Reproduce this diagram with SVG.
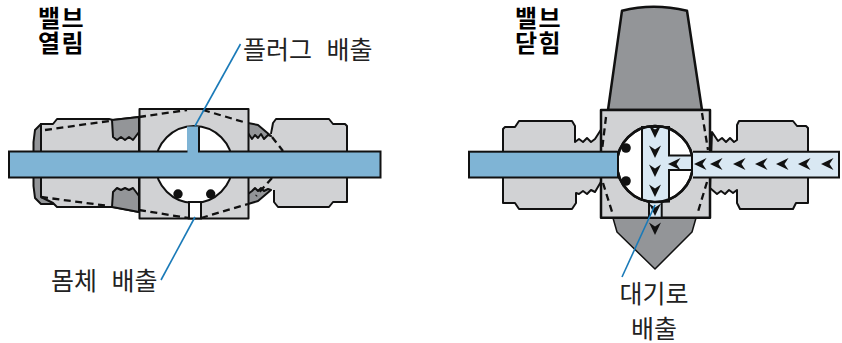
<svg xmlns="http://www.w3.org/2000/svg" width="842" height="343" viewBox="0 0 842 343">
<style>
.lt{fill:#d1d2d4;stroke:#111;stroke-width:2;stroke-linejoin:round}
.dk{fill:#939598;stroke:#111;stroke-width:2;stroke-linejoin:round}
.blue{fill:#7fb4d5;stroke:#111;stroke-width:2}
.pale{fill:#d9e8f3;stroke:#111;stroke-width:2}
.wh{fill:#fff;stroke:#111;stroke-width:2}
.nf{fill:#d1d2d4;stroke:none}
.dash{fill:none;stroke:#111;stroke-width:2.300;stroke-dasharray:7 4.500}
.ln{fill:none;stroke:#111;stroke-width:2;stroke-linejoin:round}
.lead{fill:none;stroke:#1a7ab8;stroke-width:1.600}
text{font-family:"Noto Sans CJK KR","Noto Sans",sans-serif;fill:#222}
.h{font-size:24px;font-weight:700;fill:#000;letter-spacing:1.500px}
.l{font-size:25px;word-spacing:9px}
</style>
<defs>
<path id="ad" d="M0,0L-6,-12.500L0,-8.500L6,-12.500Z" fill="#111"/>
<path id="al" d="M0,0L12.500,-6L8.500,0L12.500,6Z" fill="#111"/>
</defs>

<g id="valve-open">
<path class="dk" d="M41,124L35,130L33.500,142L33.500,186L35,198L41,204L60,204L60,124Z"/>
<path class="lt" d="M41,124L53,124L57,119L109,119L113,120L139,117L139,212L113,207L57,207L53,203L41,197Z"/>
<path class="dk" d="M112,120L139,117L139,132L133,140L129,137L125,140L121,137L117,140L113,137Z"/>
<path class="dk" d="M112,207L139,212L139,196L133,188L129,190L125,188L121,190L117,188L113,192Z"/>
<path class="dash" d="M45,130L109,121"/>
<path class="dash" d="M41,197L109,206"/>
<path class="nf" d="M248,133L271,136L273,133V123L276,119H329L333,124H345L347,126V202H333L329,207H278L274,202V190L268,189L264,191L261,188L258,191L255,188L252,191L248,194Z"/>
<path class="dk" d="M248,123L258,125L271,136L268,135L264,139L261,134L258,138L255,135L252,139L248,133Z"/>
<path class="dk" d="M248,204L258,201L271,190L268,189L264,191L261,188L258,191L255,188L252,191L248,194Z"/>
<path class="ln" d="M271,134L273,123L276,119L329,119L333,124L345,124L347,126V202L333,202L329,207L278,207L274,202V190"/>
<rect class="lt" x="139.500" y="109" width="109" height="109.500"/>
<circle class="wh" cx="194" cy="164.500" r="38.500"/>
<rect class="wh" x="189" y="202" width="12" height="16.500"/>
<rect x="187" y="126.500" width="12" height="27" fill="#7fb4d5"/>
<path class="ln" d="M199,126.500V151"/>
<rect class="blue" x="9" y="151.500" width="371.500" height="26"/>
<rect x="187.500" y="128" width="10.500" height="26" fill="#7fb4d5"/>
<path class="dash" d="M139,117L187,110M203,110L247,123M272,137L283,151"/>
<path class="dash" d="M139,210L188,218M201,218L248,204M272,178L256,196"/>
<circle cx="178" cy="194" r="4.700" fill="#111"/>
<circle cx="210.700" cy="194" r="4.700" fill="#111"/>
</g>

<g id="valve-closed">
<path class="dk" d="M608,110L622,10.700Q653,3 687,10.700L702,110Z" style="stroke-width:2.500"/>
<path class="dk" d="M613,218L617,232L655,269L692,232L696,218Z" style="stroke-width:1.500"/>
<path class="lt" d="M503,129L505,127L515,127L519,121L572,121L575,126L575,142L579,139L583,142L587,138L591,142L595,139L602,128L602,180L595,192L591,190L587,194L583,191L579,194L576,193L576,203L572,209L519,209L515,203L503,203Z"/>
<path class="lt" d="M712,132L718,141L722,138L726,142L730,138L734,142L737,140L737,125L739,121L793,121L797,126L806,126L808,128L808,203L796,203L793,209L740,209L737,203L737,190L733,193L729,190L725,194L721,191L717,194L710,188Z"/>
<rect class="lt" x="601" y="110" width="109" height="107.700" style="stroke-width:2.500"/>
<circle class="wh" cx="655" cy="164" r="38" style="stroke-width:2.500"/>
<path class="pale" d="M642,127H669V155.500H692V170H669V201.500L655,202.300L642,200Z"/>
<rect class="pale" x="649" y="202" width="12.700" height="15.700"/>
<circle cx="655" cy="164" r="38" fill="none" stroke="#111" stroke-width="2.500"/>
<rect class="blue" x="469" y="151.700" width="149" height="25.800"/>
<path class="pale" d="M693,151.700H839V177.500H693"/>
<path class="dash" d="M606,117L602,150M603,183L613,215M702,113L708,150M707,182L697,215"/>
<circle cx="626" cy="148" r="4.800" fill="#111"/>
<circle cx="626" cy="181" r="4.800" fill="#111"/>
<use href="#ad" x="655" y="138"/><use href="#ad" x="655" y="158"/><use href="#ad" x="655" y="177"/><use href="#ad" x="655" y="197"/><use href="#ad" x="655" y="216"/><use href="#ad" x="655" y="235"/>
<use href="#al" x="668" y="164"/><use href="#al" x="694" y="164"/><use href="#al" x="710" y="164"/><use href="#al" x="733" y="164"/><use href="#al" x="755" y="164"/><use href="#al" x="776" y="164"/><use href="#al" x="798" y="164"/><use href="#al" x="821" y="164"/>
</g>

<g id="connectors">
<path class="lead" d="M240.500,44L195,126"/>
<path class="lead" d="M161,280L195,217"/>
<path class="lead" d="M622,277L655,205"/>
</g>

<g id="labels">
<text class="h" x="38" y="27">밸브</text>
<text class="h" x="38" y="52">열림</text>
<text class="h" x="515" y="27">밸브</text>
<text class="h" x="515" y="52">닫힘</text>
<text class="l" x="243" y="59">플러그 배출</text>
<text class="l" x="51" y="290">몸체 배출</text>
<text class="l" x="654" y="303" text-anchor="middle">대기로</text>
<text class="l" x="654" y="338" text-anchor="middle">배출</text>
</g>
</svg>
